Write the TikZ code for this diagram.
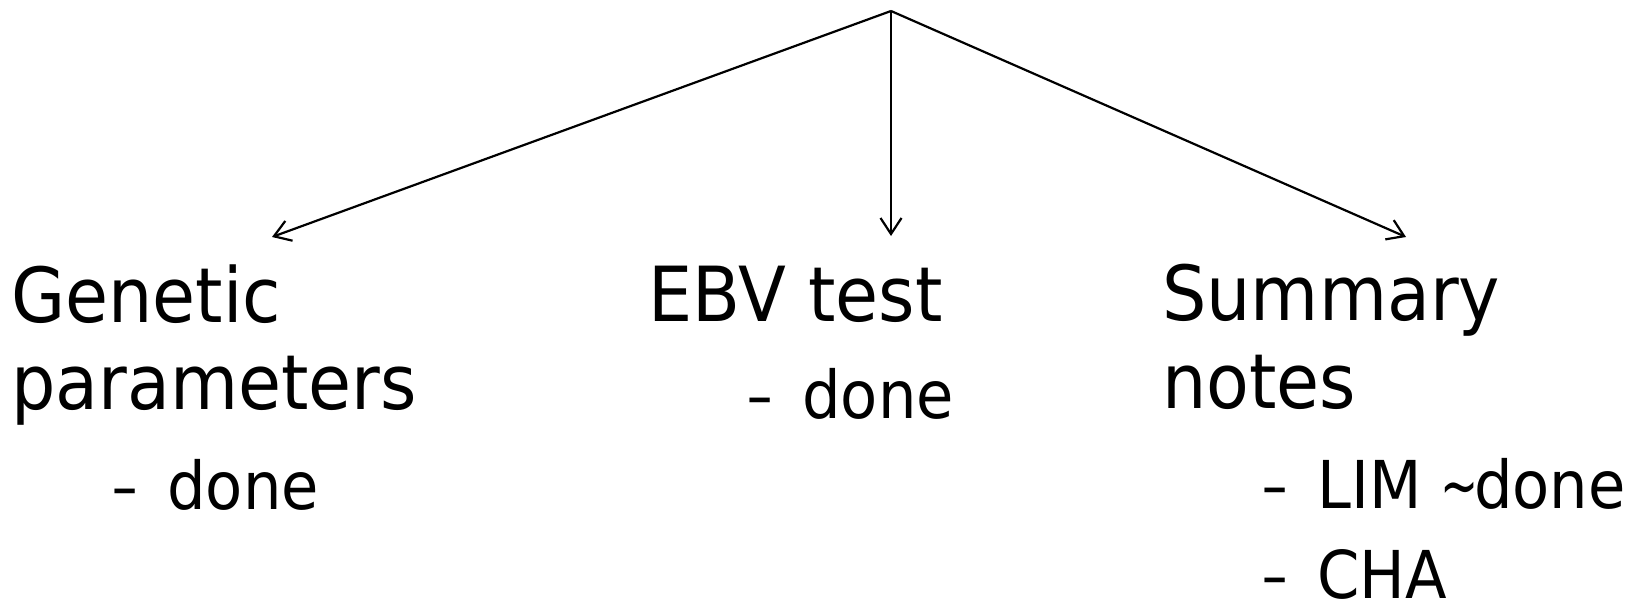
\documentclass[tikz,border=0pt]{standalone}
\usepackage{fontspec}
\usepackage{graphicx}
\setmainfont{DejaVu Sans}[FakeStretch=0.92]
\usetikzlibrary{arrows.meta}
\newcommand{\sdash}{\scalebox{0.83}[1]{\textendash}\hspace{30pt}}
\newcommand{\stilde}{\scalebox{0.75}[1]{\textasciitilde}\hspace{-5pt}}
\begin{document}
\begin{tikzpicture}[x=1pt,y=-1pt,
  lbl/.style={anchor=base west,inner sep=0pt,font=\fontsize{76}{76}\selectfont},
  sub/.style={anchor=base west,inner sep=0pt,font=\fontsize{66}{66}\selectfont},
  conn/.style={line width=2.2pt,-{Straight Barb[length=16pt,width=21pt,line width=2.2pt]}}]
\useasboundingbox (0,0) rectangle (1643,604);
\coordinate (top) at (891,11);
\coordinate (eL) at (272,237);
\coordinate (eM) at (891,236);
\coordinate (eR) at (1406,237);
\node[lbl] (g1) at (11,322) {Genetic};
\node[lbl] (g2) at (11,409) {parameters};
\node[sub] (g3) at (112,509) {\sdash done};
\node[lbl] (e1) at (648,321) {EBV test};
\node[sub] (e2) at (747,418) {\sdash done};
\node[lbl] (s1) at (1162,320) {Summary};
\node[lbl] (s2) at (1162,408) {notes};
\node[sub] (s3) at (1262,508) {\sdash LIM \stilde done};
\node[sub] (s4) at (1262,598) {\sdash CHA};
\draw[conn] (top) -- (eL);
\draw[conn] (top) -- (eM);
\draw[conn] (top) -- (eR);
\end{tikzpicture}
\end{document}
